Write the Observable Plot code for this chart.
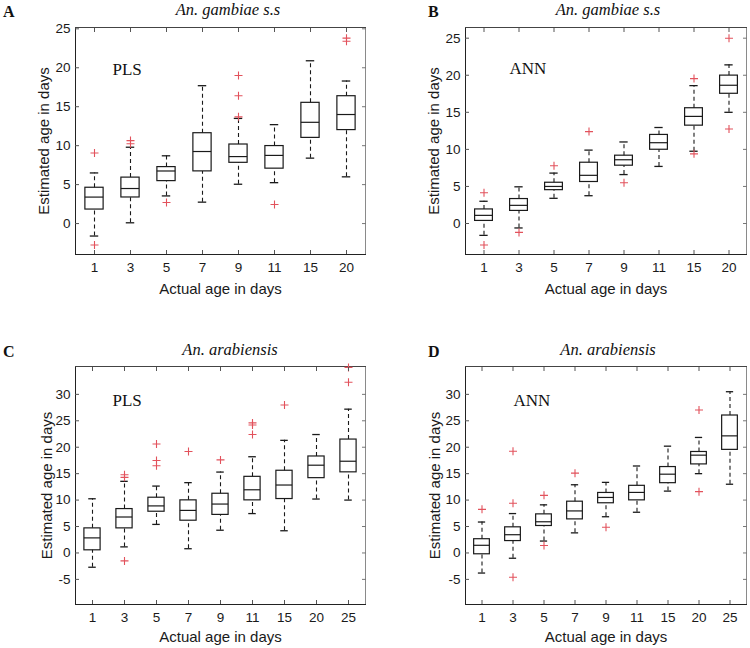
<!DOCTYPE html>
<html><head><meta charset="utf-8">
<script src="https://cdn.jsdelivr.net/npm/d3@7"></script>
<script src="https://cdn.jsdelivr.net/npm/@observablehq/plot@0.6"></script>
<style>
body{margin:0;background:#fff;}
#fig{position:relative;width:750px;height:648px;background:#fff;overflow:hidden;}
.ttl{position:absolute;font-family:"Liberation Serif","Times New Roman",serif;font-style:italic;font-size:16.5px;line-height:1;white-space:nowrap;transform:translateX(-50%);color:#111;}
.let{position:absolute;font-family:"Liberation Serif","Times New Roman",serif;font-weight:bold;font-size:16px;line-height:1;color:#111;}
</style></head><body><div id="fig"></div>
<script>
// ---- categories ----
const agesGambiae = ["1","3","5","7","9","11","15","20"];
const agesArabiensis = ["1","3","5","7","9","11","15","20","25"];
const ticksGambiae = [0,5,10,15,20,25];
const ticksArabiensis = [-5,0,5,10,15,20,25,30];

// ---- Panel A: An. gambiae s.s, PLS ----
const aLow  = [-1.6, 0.1, 3.55, 2.75, 5.05, 5.25, 8.4, 6.0];
const aQ1   = [1.8, 3.35, 5.45, 6.7, 7.8, 7.05, 11.0, 12.0];
const aMed  = [3.4, 4.5, 6.75, 9.25, 8.6, 8.75, 13.0, 14.0];
const aQ3   = [4.6, 5.9, 7.25, 11.6, 10.15, 9.95, 15.5, 16.35];
const aHigh = [6.5, 9.8, 8.7, 17.7, 13.5, 12.7, 20.9, 18.3];
const aOutAge = ["1","1","3","3","5","9","9","9","11","20","20"];
const aOutVal = [9.05, -2.75, 10.65, 10.25, 2.7, 19.0, 16.4, 13.7, 2.45, 23.8, 23.4];

// ---- Panel B: An. gambiae s.s, ANN ----
const bLow  = [-1.6, -0.6, 3.4, 3.75, 6.6, 7.7, 9.75, 15.0];
const bQ1   = [0.35, 1.7, 4.5, 5.6, 7.8, 9.95, 13.2, 17.5];
const bMed  = [1.1, 2.45, 5.0, 6.5, 8.6, 10.9, 14.45, 18.65];
const bQ3   = [1.9, 3.3, 5.5, 8.2, 9.15, 11.95, 15.55, 19.95];
const bHigh = [3.0, 4.95, 6.8, 9.9, 11.0, 12.95, 18.6, 21.4];
const bOutAge = ["1","1","3","5","7","9","15","15","20","20"];
const bOutVal = [4.15, -2.9, -1.2, 7.8, 12.4, 5.5, 19.55, 9.4, 25.0, 12.75];

// ---- Panel C: An. arabiensis, PLS ----
const cLow  = [-2.7, 1.15, 5.4, 0.8, 4.3, 7.45, 4.2, 10.2, 10.0];
const cQ1   = [0.5, 4.65, 7.8, 6.1, 7.2, 9.95, 10.2, 14.15, 15.25];
const cMed  = [2.85, 6.8, 8.9, 8.05, 9.25, 11.95, 12.85, 16.6, 17.35];
const cQ3   = [4.65, 8.3, 10.45, 9.95, 11.2, 14.4, 15.55, 18.25, 21.45];
const cHigh = [10.25, 13.55, 12.65, 13.3, 15.3, 18.2, 21.3, 22.4, 27.2];
const cOutAge = ["3","3","3","5","5","5","7","9","11","11","11","15","25","25"];
const cOutVal = [14.8, 14.3, -1.5, 20.6, 17.5, 16.5, 19.2, 17.6, 24.6, 24.2, 22.4, 28.0, 35.1, 32.3];

// ---- Panel D: An. arabiensis, ANN ----
const dLow  = [-3.8, -1.0, 2.25, 3.8, 6.85, 7.7, 11.7, 15.0, 13.0];
const dQ1   = [-0.25, 2.25, 5.1, 6.35, 9.4, 9.95, 13.2, 16.75, 19.5];
const dMed  = [1.45, 3.45, 5.9, 7.95, 10.5, 11.45, 14.9, 18.5, 22.15];
const dQ3   = [2.6, 4.85, 7.3, 9.7, 11.35, 12.7, 16.25, 19.1, 26.0];
const dHigh = [5.85, 7.45, 9.1, 12.9, 13.35, 16.45, 20.2, 21.85, 30.5];
const dOutAge = ["1","3","3","3","5","5","7","9","20","20"];
const dOutVal = [8.25, 19.25, 9.4, -4.6, 10.9, 1.4, 15.1, 4.85, 27.05, 11.6];

// ---- text ----
const speciesGambiae = "An. gambiae s.s";
const speciesArabiensis = "An. arabiensis";
const xLabel = "Actual age in days";
const yLabel = "Estimated age in days";

const plusSymbol = {
  draw(ctx, size) {
    const r = Math.sqrt(size / Math.PI);
    ctx.moveTo(-r, 0); ctx.lineTo(r, 0);
    ctx.moveTo(0, -r); ctx.lineTo(0, r);
  }
};

function makePanel(cfg) {
  const {ages, low, q1, med, q3, high, outAge, outVal, yDomain, yTicks, method,
         width, height, mL, mR, mT, mB, yLabOff, xLabOff, annDx, annDy} = cfg;
  const boxes = ages.map((a, i) => ({age: a, low: low[i], q1: q1[i], med: med[i], q3: q3[i], high: high[i]}));
  const outliers = outAge.map((a, i) => ({age: a, v: outVal[i]}));
  const band = (width - mL - mR) / ages.length;
  const boxInset = band * 0.245;
  const capInset = band * 0.38;
  const ink = "#1a1a1a";
  return Plot.plot({
    width, height, marginLeft: mL, marginRight: mR, marginTop: mT, marginBottom: mB,
    x: {type: "band", domain: ages, paddingInner: 0, paddingOuter: 0},
    y: {domain: yDomain},
    style: {fontFamily: '"Liberation Sans", Arial, Helvetica, sans-serif', fontSize: "13.5px", color: ink, background: "transparent", overflow: "visible"},
    marks: [
      Plot.frame({stroke: "#8a8a8a"}),
      Plot.frame({anchor: "left", stroke: "#222"}),
      Plot.frame({anchor: "bottom", stroke: "#222"}),
      Plot.frame({anchor: "top", stroke: "#444"}),
      Plot.ruleX(boxes, {x: "age", y1: "q3", y2: "high", stroke: ink, strokeWidth: 1.1, strokeDasharray: "4,3"}),
      Plot.ruleX(boxes, {x: "age", y1: "low", y2: "q1", stroke: ink, strokeWidth: 1.1, strokeDasharray: "4,3"}),
      Plot.tickY(boxes, {x: "age", y: "high", insetLeft: capInset, insetRight: capInset, stroke: ink, strokeWidth: 1.3}),
      Plot.tickY(boxes, {x: "age", y: "low", insetLeft: capInset, insetRight: capInset, stroke: ink, strokeWidth: 1.3}),
      Plot.barY(boxes, {x: "age", y1: "q1", y2: "q3", insetLeft: boxInset, insetRight: boxInset, fill: "none", stroke: ink, strokeWidth: 1.2}),
      Plot.tickY(boxes, {x: "age", y: "med", insetLeft: boxInset, insetRight: boxInset, stroke: ink, strokeWidth: 1.2}),
      Plot.dot(outliers, {x: "age", y: "v", symbol: plusSymbol, r: 4, fill: "none", stroke: "#e2525c", strokeWidth: 1.1}),
      Plot.axisX({anchor: "bottom", tickSize: 0, tickPadding: 8, label: null}),
      Plot.axisY({anchor: "left", ticks: yTicks, tickSize: 0, tickPadding: 5, tickFormat: d => String(d), label: null}),
      Plot.axisX({anchor: "bottom", tickSize: 4, dy: -4, fill: "none", stroke: "#555", label: null}),
      Plot.axisX({anchor: "top", tickSize: 4, dy: 4, fill: "none", stroke: "#555", label: null}),
      Plot.axisY({anchor: "left", ticks: yTicks, tickSize: 4, dx: 4, fill: "none", stroke: "#555", label: null}),
      Plot.axisY({anchor: "right", ticks: yTicks, tickSize: 4, dx: -4, fill: "none", stroke: "#777", label: null}),
      Plot.text([xLabel], {frameAnchor: "bottom", dy: xLabOff, textAnchor: "middle", lineAnchor: "bottom", fontSize: 15, fill: ink}),
      Plot.text([yLabel], {frameAnchor: "left", dx: -yLabOff, rotate: -90, textAnchor: "middle", lineAnchor: "top", fontSize: 15, fill: ink}),
      Plot.text([method], {frameAnchor: "top-left", dx: annDx, dy: annDy, textAnchor: "start", lineAnchor: "middle",
        fontFamily: '"Liberation Serif", "Times New Roman", serif', fontSize: 17, fill: "#111"})
    ]
  });
}

const fig = document.getElementById("fig");
function place(el, left, top) {
  el.style.position = "absolute";
  el.style.left = left + "px";
  el.style.top = top + "px";
  fig.appendChild(el);
}
function addDiv(cls, text, left, top) {
  const d = document.createElement("div");
  d.className = cls;
  d.textContent = text;
  d.style.left = left + "px";
  d.style.top = top + "px";
  fig.appendChild(d);
}

place(makePanel({ages: agesGambiae, low: aLow, q1: aQ1, med: aMed, q3: aQ3, high: aHigh, outAge: aOutAge, outVal: aOutVal,
  yDomain: [-3.97, 25.17], yTicks: ticksGambiae, method: "PLS",
  width: 375, height: 278, mL: 75, mR: 10, mT: 5, mB: 46, yLabOff: 37, xLabOff: 39, annDx: 37, annDy: 42}), 0, 22);
place(makePanel({ages: agesGambiae, low: bLow, q1: bQ1, med: bMed, q3: bQ3, high: bHigh, outAge: bOutAge, outVal: bOutVal,
  yDomain: [-4.18, 26.44], yTicks: ticksGambiae, method: "ANN",
  width: 375, height: 278, mL: 90, mR: 4, mT: 5, mB: 46, yLabOff: 37, xLabOff: 39, annDx: 44, annDy: 41}), 375, 22);
place(makePanel({ages: agesArabiensis, low: cLow, q1: cQ1, med: cMed, q3: cQ3, high: cHigh, outAge: cOutAge, outVal: cOutVal,
  yDomain: [-9.75, 35.27], yTicks: ticksArabiensis, method: "PLS",
  width: 375, height: 303, mL: 75, mR: 10, mT: 21, mB: 44, yLabOff: 34, xLabOff: 37, annDx: 37, annDy: 34}), 0, 345);
place(makePanel({ages: agesArabiensis, low: dLow, q1: dQ1, med: dMed, q3: dQ3, high: dHigh, outAge: dOutAge, outVal: dOutVal,
  yDomain: [-9.75, 35.27], yTicks: ticksArabiensis, method: "ANN",
  width: 375, height: 303, mL: 90, mR: 4, mT: 21, mB: 44, yLabOff: 36, xLabOff: 37, annDx: 48, annDy: 34}), 375, 345);

addDiv("let", "A", 3, 4);
addDiv("let", "B", 428, 4);
addDiv("let", "C", 3, 344);
addDiv("let", "D", 428, 344);
addDiv("ttl", speciesGambiae, 228, 2);
addDiv("ttl", speciesGambiae, 608, 2);
addDiv("ttl", speciesArabiensis, 230, 342);
addDiv("ttl", speciesArabiensis, 608, 342);
</script></body></html>
